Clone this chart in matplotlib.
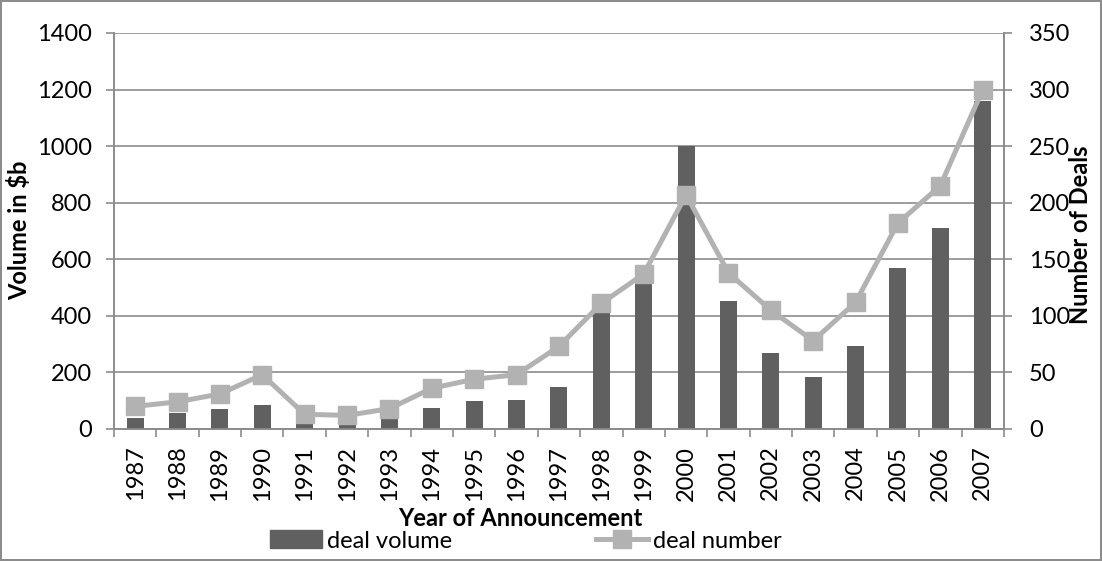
import numpy as np
import matplotlib
matplotlib.use("Agg")
import matplotlib.pyplot as plt
from matplotlib.lines import Line2D
from matplotlib.patches import Patch

plt.rcParams["font.family"] = ["Lato", "DejaVu Sans"]

years = [str(y) for y in range(1987, 2008)]
# deal volume in $b (left axis)
volume = [40, 55, 70, 85, 18, 13, 36, 74, 99, 101, 147, 409, 513, 1000,
          452, 267, 185, 293, 570, 712, 1160]
# number of deals (right axis)
deals = [20, 24, 31, 48, 13, 12, 18, 36, 44, 48, 73, 111, 137, 207,
         138, 105, 78, 112, 182, 215, 300]

C_BAR = "#606060"; C_LINE = "#b2b2b2"; C_AX = "#8c8c8c"
FS = 17

fig = plt.figure(figsize=(11.02, 5.61), dpi=100)
fig.patch.set_edgecolor("#8c8c8c"); fig.patch.set_linewidth(1.5)
ax = fig.add_axes([0.1034, 0.2353, 0.8076, 0.7059])
ax2 = ax.twinx()

x = np.arange(len(years))
ax.bar(x, volume, width=0.4, color=C_BAR, zorder=3)
ax2.plot(x, deals, "-s", color=C_LINE, lw=3.6, ms=13, mec=C_LINE, zorder=4)

ax.set_xlim(-0.5, len(years) - 0.5)
ax.set_ylim(0, 1400); ax.set_yticks(range(0, 1401, 200))
ax2.set_ylim(0, 350); ax2.set_yticks(range(0, 351, 50))
ax.yaxis.grid(True, color=C_AX, lw=1.2, zorder=0)
ax.set_axisbelow(True)

ax.set_xticks(x)
ax.set_xticklabels(years, rotation=90)
ax.set_xticks(np.arange(-0.5, len(years)), minor=True)
ax.tick_params(axis="x", which="major", length=0, labelsize=FS, pad=12)
ax.tick_params(axis="x", which="minor", length=6, color=C_AX, width=1.2)
ax.tick_params(axis="y", length=6, color=C_AX, width=1.2, labelsize=FS, pad=10)
ax2.tick_params(axis="y", length=6, color=C_AX, width=1.2, labelsize=FS, pad=12)

for a in (ax, ax2):
    for s in a.spines.values():
        s.set_visible(False)
    for s in ("left", "right", "bottom"):
        a.spines[s].set_visible(True)
        a.spines[s].set_color(C_AX)
        a.spines[s].set_linewidth(1.2)

fig.text(19 / 1102, 1 - 230 / 561, "Volume in $b", fontsize=FS, fontweight="bold",
         rotation=90, ha="center", va="center")
fig.text(1081 / 1102, 1 - 235 / 561, "Number of Deals", fontsize=FS, fontweight="bold",
         rotation=90, ha="center", va="center")
fig.text(520 / 1102, 1 - 518 / 561, "Year of Announcement", fontsize=FS,
         fontweight="bold", ha="center", va="center")

handles = [Patch(color=C_BAR, label="deal volume"),
           Line2D([], [], color=C_LINE, lw=3.6, marker="s", ms=13, label="deal number")]
fig.legend(handles=handles, loc="center", bbox_to_anchor=(526 / 1102, 1 - 541 / 561), ncol=2,
           frameon=False, fontsize=FS, columnspacing=6.1, handlelength=2.2,
           handleheight=0.8, handletextpad=0.2, borderpad=0)

fig.savefig("out.png", dpi=100)
